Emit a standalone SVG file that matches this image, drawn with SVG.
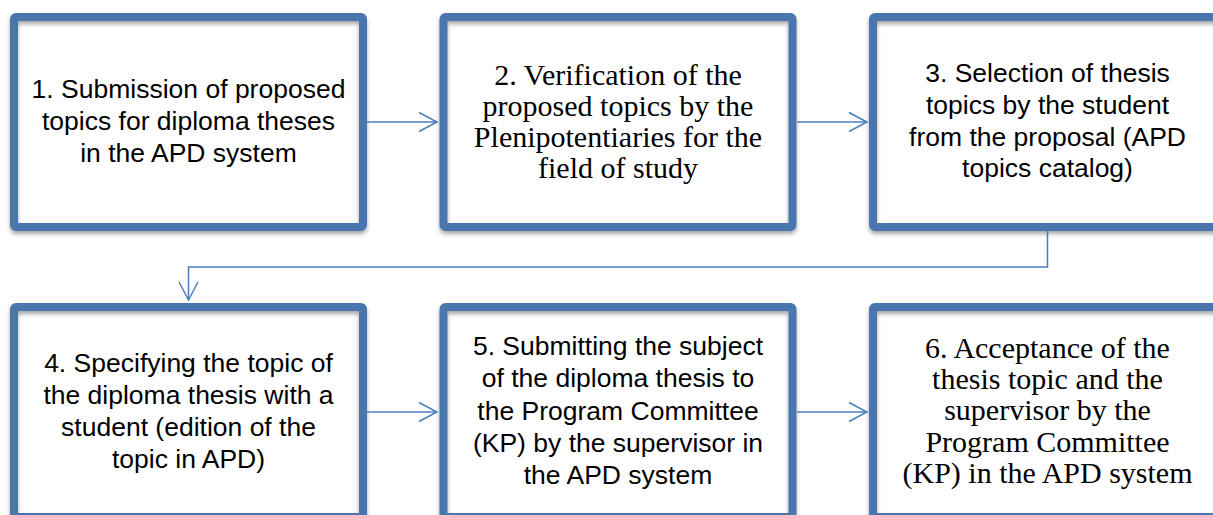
<svg xmlns="http://www.w3.org/2000/svg" width="1213" height="515" viewBox="0 0 1213 515">
<style>
.box{fill:none;stroke:#4a76ad;stroke-width:8;filter:url(#sh)}
.bg{fill:#fff}
.s{font-family:"Liberation Sans",Arial,sans-serif;font-size:26.5px;fill:#000;text-anchor:middle}
.r{font-family:"Liberation Serif","Times New Roman",serif;font-size:30px;fill:#000;text-anchor:middle}
.c{fill:none;stroke:#4a7ebb;stroke-width:1.5}
</style>
<defs>
<filter id="sh" x="-5%" y="-5%" width="110%" height="115%">
<feDropShadow dx="0" dy="3" stdDeviation="2" flood-color="#000" flood-opacity="0.35"/>
</filter>
<marker id="ah" markerUnits="userSpaceOnUse" markerWidth="24" markerHeight="24" viewBox="-20 -12 24 24" refX="0" refY="0" orient="auto">
<path d="M-18,-9.5 L0,0 L-18,9.5" fill="none" stroke="#4a7ebb" stroke-width="1.5"/>
</marker>
</defs>
<g id="n1"><rect class="bg" x="14" y="17" width="349" height="210"/><rect class="box" x="14" y="17" width="349" height="210" rx="2"/>
<text class="s" x="188.5" y="98">1. Submission of proposed</text><text class="s" x="188.5" y="130">topics for diploma theses</text><text class="s" x="188.5" y="162">in the APD system</text></g>
<g id="n2"><rect class="bg" x="443.5" y="17" width="349" height="210"/><rect class="box" x="443.5" y="17" width="349" height="210" rx="2"/>
<text class="r" x="618" y="85">2. Verification of the</text><text class="r" x="618" y="116">proposed topics by the</text><text class="r" x="618" y="147">Plenipotentiaries for the</text><text class="r" x="618" y="178">field of study</text></g>
<g id="n3"><rect class="bg" x="873" y="17" width="349" height="210"/><rect class="box" x="873" y="17" width="349" height="210" rx="2"/>
<text class="s" x="1047.5" y="82">3. Selection of thesis</text><text class="s" x="1047.5" y="114">topics by the student</text><text class="s" x="1047.5" y="146">from the proposal (APD</text><text class="s" x="1047.5" y="177">topics catalog)</text></g>
<g id="n4"><rect class="bg" x="14" y="307" width="349" height="210"/><rect class="box" x="14" y="307" width="349" height="210" rx="2"/>
<text class="s" x="188.5" y="372">4. Specifying the topic of</text><text class="s" x="188.5" y="404">the diploma thesis with a</text><text class="s" x="188.5" y="436">student (edition of the</text><text class="s" x="188.5" y="468">topic in APD)</text></g>
<g id="n5"><rect class="bg" x="443.5" y="307" width="349" height="210"/><rect class="box" x="443.5" y="307" width="349" height="210" rx="2"/>
<text class="s" x="618" y="355">5. Submitting the subject</text><text class="s" x="618" y="387">of the diploma thesis to</text><text class="s" x="618" y="420">the Program Committee</text><text class="s" x="618" y="452">(KP) by the supervisor in</text><text class="s" x="618" y="484">the APD system</text></g>
<g id="n6"><rect class="bg" x="873" y="307" width="349" height="210"/><rect class="box" x="873" y="307" width="349" height="210" rx="2"/>
<text class="r" x="1047.5" y="358">6. Acceptance of the</text><text class="r" x="1047.5" y="389">thesis topic and the</text><text class="r" x="1047.5" y="420">supervisor by the</text><text class="r" x="1047.5" y="452">Program Committee</text><text class="r" x="1047.5" y="483">(KP) in the APD system</text></g>
<g id="connectors">
<path class="c" d="M367,122 H437" marker-end="url(#ah)"/>
<path class="c" d="M797,122 H867" marker-end="url(#ah)"/>
<path class="c" d="M1047.5,231 V267 H188.5 V300" marker-end="url(#ah)"/>
<path class="c" d="M367,412 H437" marker-end="url(#ah)"/>
<path class="c" d="M797,412 H867" marker-end="url(#ah)"/>
</g>
</svg>
